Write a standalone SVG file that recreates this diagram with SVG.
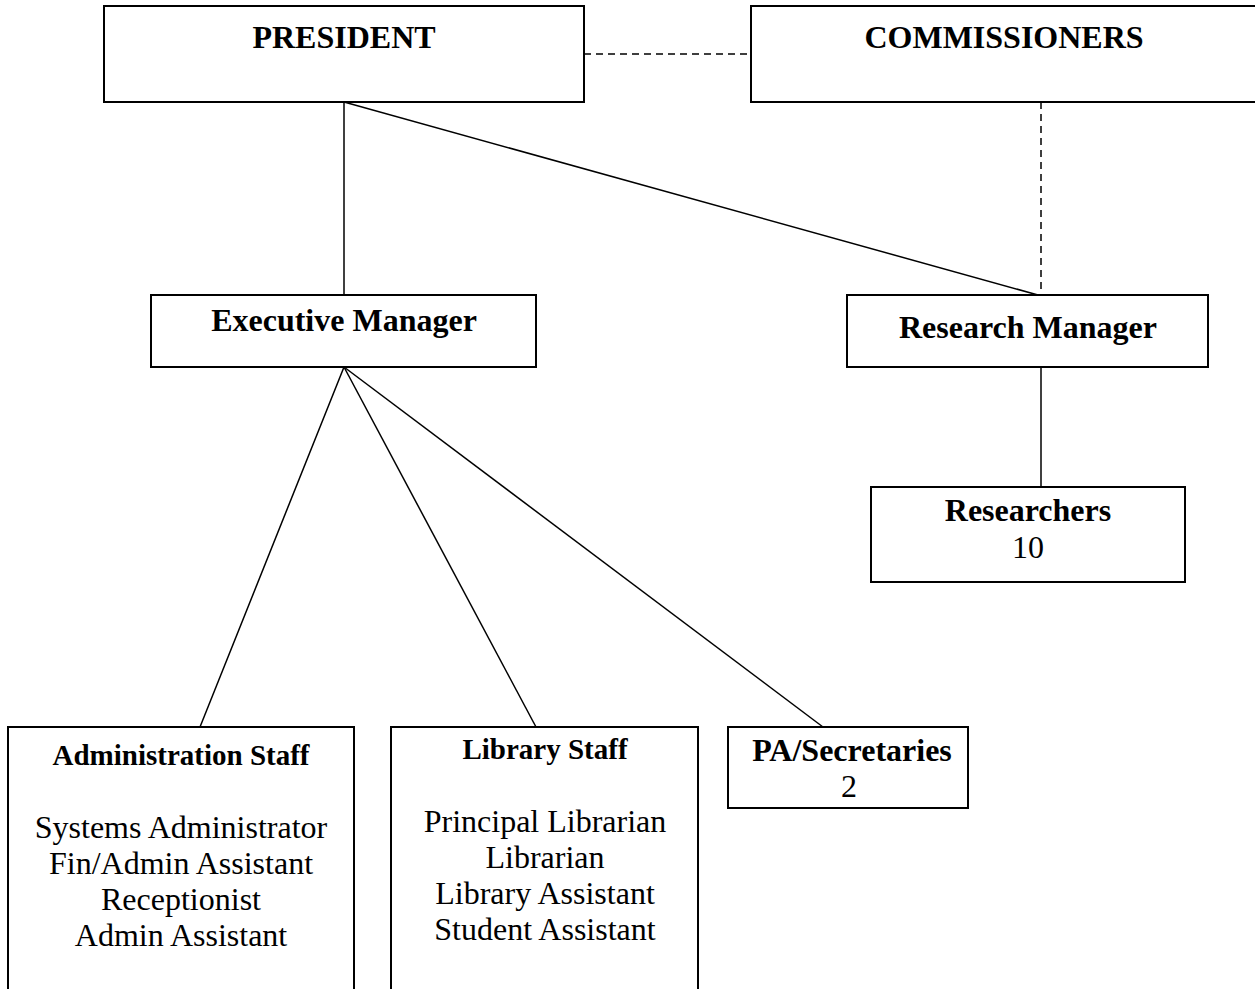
<svg xmlns="http://www.w3.org/2000/svg" width="1255" height="989" viewBox="0 0 1255 989">
  <style>
    .box { fill: #fff; stroke: #000; stroke-width: 2; }
    .link { stroke: #000; stroke-width: 1.5; fill: none; }
    .dash { stroke-dasharray: 7 5; }
    text { font-family: "Liberation Serif", "Times New Roman", serif; fill: #000; text-anchor: middle; }
    .h { font-weight: bold; font-size: 32px; }
    .s { font-weight: bold; font-size: 29px; }
    .r { font-size: 32px; }
  </style>
  <rect width="1255" height="989" fill="#fff"/>

  <g id="connectors">
    <line class="link dash" x1="584" y1="54" x2="751" y2="54"/>
    <line class="link dash" x1="1041" y1="102" x2="1041" y2="295"/>
    <line class="link" x1="344" y1="102" x2="344" y2="295"/>
    <line class="link" x1="344" y1="102" x2="1038" y2="295"/>
    <line class="link" x1="1041" y1="367" x2="1041" y2="487"/>
    <line class="link" x1="344" y1="367" x2="200" y2="727"/>
    <line class="link" x1="344" y1="367" x2="536" y2="727"/>
    <line class="link" x1="344" y1="367" x2="823" y2="727"/>
  </g>

  <g id="president">
    <rect class="box" x="104" y="6" width="480" height="96"/>
    <text class="h" x="344" y="48">PRESIDENT</text>
  </g>

  <g id="commissioners">
    <rect class="box" x="751" y="6" width="520" height="96"/>
    <text class="h" x="1004" y="48">COMMISSIONERS</text>
  </g>

  <g id="executive-manager">
    <rect class="box" x="151" y="295" width="385" height="72"/>
    <text class="h" x="344" y="331">Executive Manager</text>
  </g>

  <g id="research-manager">
    <rect class="box" x="847" y="295" width="361" height="72"/>
    <text class="h" x="1028" y="338">Research Manager</text>
  </g>

  <g id="researchers">
    <rect class="box" x="871" y="487" width="314" height="95"/>
    <text class="h" x="1028" y="521">Researchers</text>
    <text class="r" x="1028" y="558">10</text>
  </g>

  <g id="administration-staff">
    <rect class="box" x="8" y="727" width="346" height="280"/>
    <text class="s" x="181" y="765">Administration Staff</text>
    <text class="r" x="181" y="838">Systems Administrator</text>
    <text class="r" x="181" y="874">Fin/Admin Assistant</text>
    <text class="r" x="181" y="910">Receptionist</text>
    <text class="r" x="181" y="946">Admin Assistant</text>
  </g>

  <g id="library-staff">
    <rect class="box" x="391" y="727" width="307" height="280"/>
    <text class="s" x="545" y="759">Library Staff</text>
    <text class="r" x="545" y="832">Principal Librarian</text>
    <text class="r" x="545" y="868">Librarian</text>
    <text class="r" x="545" y="904">Library Assistant</text>
    <text class="r" x="545" y="940">Student Assistant</text>
  </g>

  <g id="pa-secretaries">
    <rect class="box" x="728" y="727" width="240" height="81"/>
    <text class="h" x="852" y="761">PA/Secretaries</text>
    <text class="r" x="849" y="797">2</text>
  </g>
</svg>
